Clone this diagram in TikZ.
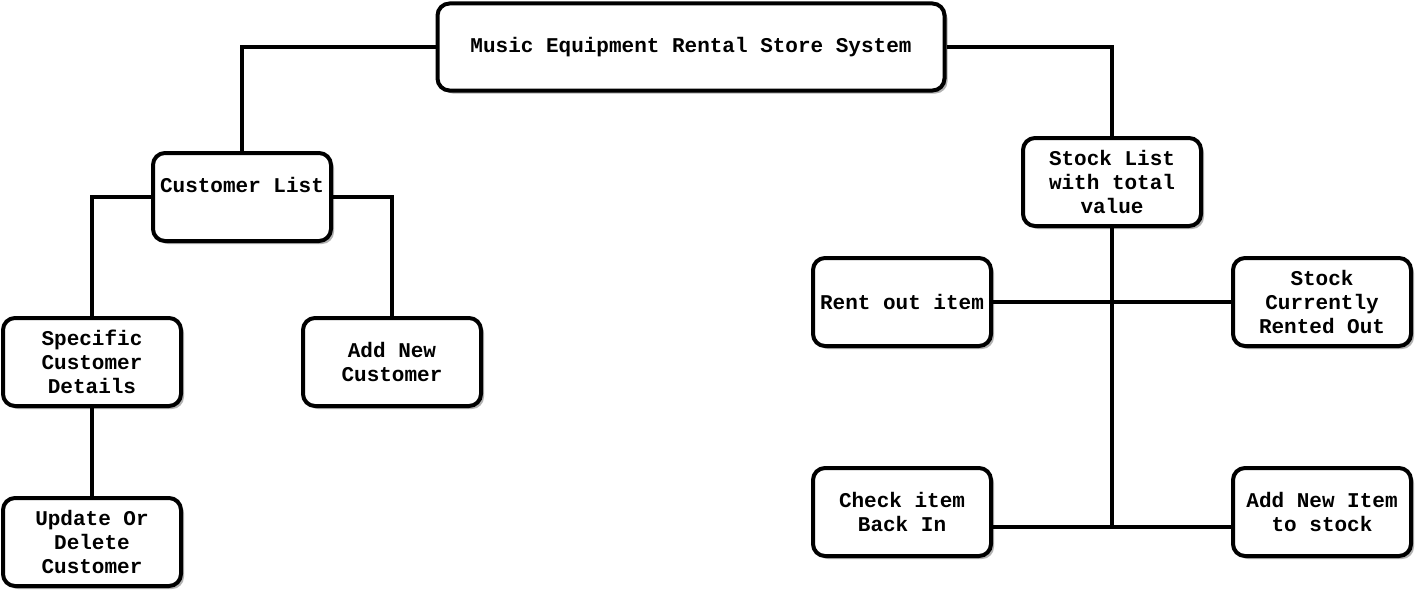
\documentclass[tikz,border=0pt]{standalone}
\usepackage{fontspec}
\setmonofont{Liberation Mono}
\usetikzlibrary{shadows}

\tikzset{
	box/.style={draw, fill=white, rectangle, rounded corners=12pt, line width=4pt,
		minimum width=178pt, minimum height=88pt, align=center, inner sep=0pt,
		font=\ttfamily\bfseries\fontsize{21}{24}\selectfont,
		drop shadow={shadow xshift=3pt, shadow yshift=-3pt, fill=black!30, opacity=1}},
	link/.style={draw, line width=3.5pt}
}

\begin{document}
\begin{tikzpicture}[x=1pt, y=-1pt]
		\useasboundingbox (0,0) rectangle (1418,594);
		% top box
		\node[box, minimum width=507pt, minimum height=87pt] (system) at (691, 47) {Music Equipment Rental Store System};
		% customer side
		\node[box] (customers) at (242, 197) {Customer List\\~};
		\node[box] (details) at (92, 362) {Specific\\Customer\\Details};
		\node[box] (newcustomer) at (392, 362) {Add New\\Customer};
		\node[box] (update) at (92, 542) {Update Or\\Delete\\Customer};
		% stock side
		\node[box] (stock) at (1112, 182) {Stock List\\with total\\value};
		\node[box] (rentout) at (902, 302) {Rent out item};
		\node[box] (rented) at (1322, 302) {Stock\\Currently\\Rented Out};
		\node[box] (checkin) at (902, 512) {Check item\\Back In};
		\node[box] (newitem) at (1322, 512) {Add New Item\\to stock};
		\coordinate (joint) at (1112, 527);

		\draw[link] (system.west) -| (customers.north);
		\draw[link] (system.east) -| (stock.north);
		\draw[link] (customers.west) -| (details.north);
		\draw[link] (customers.east) -| (newcustomer.north);
		\draw[link] (details.south) -- (update.north);
		\draw[link] (stock.south) -- (joint);
		\draw[link] (rentout.east) -- (rented.west);
		\draw[link] (checkin.east |- joint) -- (newitem.west |- joint);
	\end{tikzpicture}
\end{document}
